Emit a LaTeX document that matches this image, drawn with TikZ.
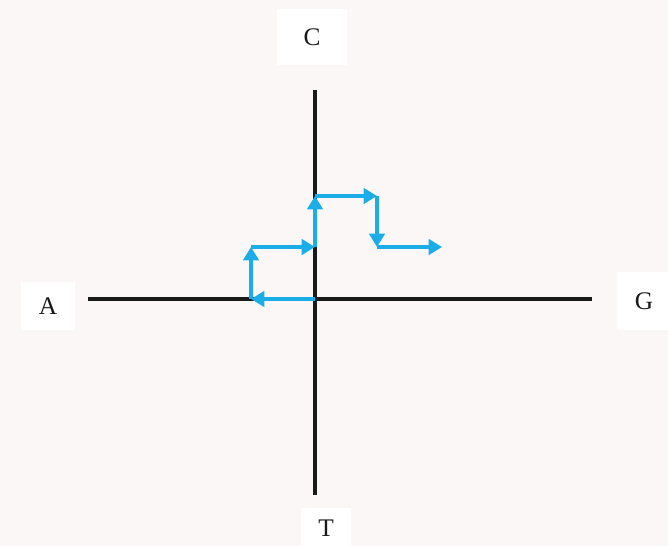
\documentclass[tikz,border=0pt]{standalone}
\usepackage{fontspec}
\setmainfont{Liberation Serif}
\usetikzlibrary{arrows.meta, positioning}
\definecolor{cback}{HTML}{FBF7F6}
\definecolor{cblue}{HTML}{1AADE8}
\definecolor{caxis}{HTML}{1A1A1A}
\tikzset{
  every picture/.style={line width=2.6pt},
  axis/.style={draw=caxis, line width=2.6pt},
  walk/.style={-{Triangle[length=10pt, width=11.5pt]}, draw=cblue, line width=2.8pt},
  base/.style={fill=white, font=\fontsize{19}{22}\selectfont, text=black!90},
}

\begin{document}
\begin{tikzpicture}[x=0.75pt, y=-0.75pt]
  % page: 668 x 546 px, y grows downwards
  \fill[cback] (0,0) rectangle (668,546);
  \useasboundingbox (0,0) rectangle (668,546);
  % the four bases, on white patches
  \node[base, minimum width=53pt, minimum height=42pt] (C) at (312,37) {C};
  \node[base, minimum width=41pt, minimum height=36pt] (A) at (48,306) {A};
  \node[base, minimum width=40pt, minimum height=43pt] (G) at (644,301) {G};
  \node[base, minimum width=38pt, minimum height=30pt] (T) at (326,528) {T};
  % axes
  \coordinate (west) at (88,299);
  \coordinate (east) at (592,299);
  \coordinate (north) at (315,90);
  \coordinate (south) at (315,495);
  \draw[axis] (west) -- (east);
  \draw[axis] (north) -- (south);
  % the walk, one arrow per base
  \coordinate (o) at (315,299);
  \coordinate (p1) at (251,299);
  \coordinate (p2) at (251,247);
  \coordinate (p3) at (315,247);
  \coordinate (p4) at (315,196);
  \coordinate (p5) at (377,196);
  \coordinate (p6) at (377,247);
  \coordinate (p7) at (442,247);
  \draw[walk] (o) -- (p1);
  \draw[walk] (p1) -- (p2);
  \draw[walk] (p2) -- (p3);
  \draw[walk] (p3) -- (p4);
  \draw[walk] (p4) -- (p5);
  \draw[walk] (p5) -- (p6);
  \draw[walk] (p6) -- (p7);
\end{tikzpicture}
\end{document}
